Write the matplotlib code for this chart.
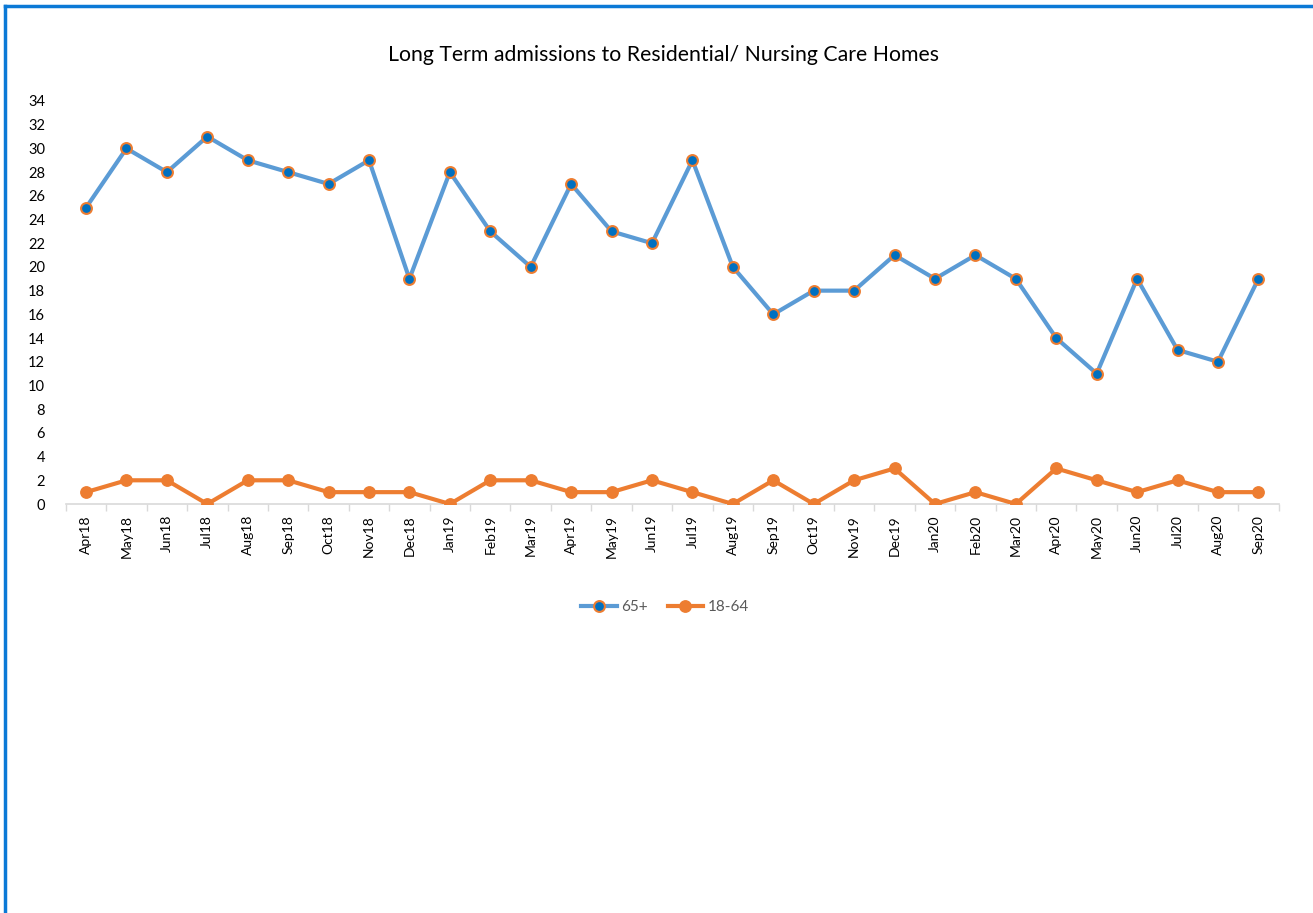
import matplotlib
matplotlib.use("Agg")
import matplotlib.pyplot as plt
from matplotlib.lines import Line2D

months = ["Apr18", "May18", "Jun18", "Jul18", "Aug18", "Sep18", "Oct18", "Nov18", "Dec18",
          "Jan19", "Feb19", "Mar19", "Apr19", "May19", "Jun19", "Jul19", "Aug19", "Sep19",
          "Oct19", "Nov19", "Dec19", "Jan20", "Feb20", "Mar20", "Apr20", "May20", "Jun20",
          "Jul20", "Aug20", "Sep20"]
age_65_plus = [25, 30, 28, 31, 29, 28, 27, 29, 19, 28, 23, 20, 27, 23, 22, 29, 20, 16,
               18, 18, 21, 19, 21, 19, 14, 11, 19, 13, 12, 19]
age_18_64 = [1, 2, 2, 0, 2, 2, 1, 1, 1, 0, 2, 2, 1, 1, 2, 1, 0, 2, 0, 2, 3, 0, 1, 0,
             3, 2, 1, 2, 1, 1]
y_ticks = list(range(0, 35, 2))

plt.rcParams['font.family'] = ['Lato', 'DejaVu Sans']

W, H = 1313, 913
fig = plt.figure(figsize=(W / 100, H / 100), dpi=100)
ax = fig.add_axes([65.8 / W, (H - 504) / H, (1278.6 - 65.8) / W, (504 - 101) / H])

x = list(range(len(months)))
blue = "#5B9BD5"
orange = "#ED7D31"
ax.plot(x, age_65_plus, color=blue, lw=3, marker="o", ms=7.8,
        mfc="#0070C0", mec=orange, mew=1.5, zorder=3, solid_capstyle="round")
ax.plot(x, age_18_64, color=orange, lw=3, marker="o", ms=8.2,
        mfc=orange, mec=orange, zorder=3, solid_capstyle="round")

ax.set_xlim(-0.5, len(months) - 0.5)
ax.set_ylim(0, 34)
ax.set_yticks(y_ticks)
ax.set_yticklabels([str(v) for v in y_ticks], fontsize=10.5, color="#000000")
ax.tick_params(axis="y", length=0, pad=15)

ax.set_xticks(x)
ax.set_xticklabels(months, rotation=90, fontsize=10, color="#000000")
ax.tick_params(axis="x", length=0, pad=8)
ax.set_xticks([i - 0.5 for i in range(len(months) + 1)], minor=True)
ax.tick_params(axis="x", which="minor", length=5, color="#D9D9D9", width=1)

for s in ["top", "right", "left"]:
    ax.spines[s].set_visible(False)
ax.spines["bottom"].set_color("#D9D9D9")
ax.spines["bottom"].set_linewidth(1.2)
ax.set_zorder(2)
ax.patch.set_visible(False)

fig.text(664 / W, 1 - 55 / H, "Long Term admissions to Residential/ Nursing Care Homes",
         ha="center", va="center", fontsize=15.3, color="#000000")

handles = [
    Line2D([], [], color=blue, lw=3, marker="o", ms=7.8, mfc="#0070C0", mec=orange, mew=1.5),
    Line2D([], [], color=orange, lw=3, marker="o", ms=8.2, mfc=orange, mec=orange),
]
fig.legend(handles, ["65+", "18-64"], loc="center", bbox_to_anchor=(665 / W, 1 - 607 / H),
           ncol=2, frameon=False, fontsize=11, labelcolor="#595959",
           handlelength=2.3, handletextpad=0.3, columnspacing=1.3)

# outer border (top and left visible)
fig.add_artist(Line2D([5 / W, 5 / W], [0, 1 - 6 / H], transform=fig.transFigure,
                      color="#0B79D6", lw=2.5))
fig.add_artist(Line2D([5 / W, 1], [1 - 6 / H, 1 - 6 / H], transform=fig.transFigure,
                      color="#0B79D6", lw=2.5))

fig.savefig("out.png", dpi=100)
